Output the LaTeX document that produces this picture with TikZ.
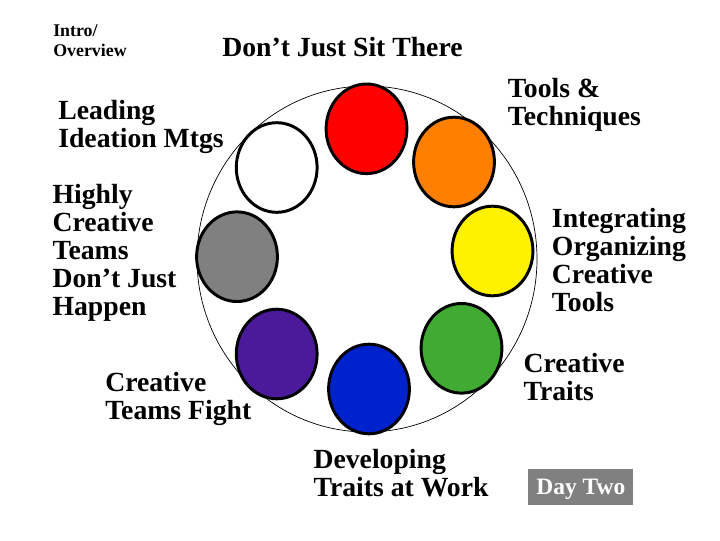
\documentclass[tikz,border=0pt]{standalone}
\usepackage{fontspec}
\setmainfont{Liberation Serif}
\usetikzlibrary{shapes.geometric}
\definecolor{wheelorange}{RGB}{255,128,0}
\definecolor{wheelgreen}{RGB}{64,170,51}
\definecolor{wheelblue}{RGB}{0,34,204}
\definecolor{wheelpurple}{RGB}{74,26,154}
\definecolor{wheelgray}{RGB}{128,128,128}
\tikzset{
  disc/.style={ellipse,draw=black,line width=2.1pt,minimum width=2.02cm,minimum height=2.24cm,inner sep=0pt},
  topic/.style={anchor=base west,align=left,inner sep=0pt,font=\bfseries\fontsize{19.7}{19.9}\selectfont},
}
\begin{document}
\begin{tikzpicture}[x=0.025cm,y=-0.025cm,line cap=round,line join=round]
	\useasboundingbox (0,0) rectangle (720,540);
	\draw[line width=0.5pt] (367,259) ellipse (170 and 173);
	\node[disc,fill=red] (red) at (366.5,128.8) {};
	\node[disc,fill=wheelorange] (orange) at (454,162) {};
	\node[disc,fill=yellow] (yellow) at (492.5,251) {};
	\node[disc,fill=wheelgreen] (green) at (461.5,348.3) {};
	\node[disc,fill=wheelblue] (blue) at (369,389) {};
	\node[disc,fill=wheelpurple] (purple) at (276.7,354) {};
	\node[disc,fill=wheelgray] (gray) at (237,256.7) {};
	\node[disc,fill=white] (white) at (276.7,167.5) {};
	\node[topic,font=\bfseries\fontsize{12.7}{14.2}\selectfont] (intro) at (53,56) {Intro/\\Overview};
	\node[topic] (title) at (222,56) {Don’t Just Sit There};
	\node[topic] (leading) at (58,147.7) {Leading\\Ideation Mtgs};
	\node[topic] (tools) at (507.7,125.7) {Tools \&\\Techniques};
	\node[topic] (integrating) at (551.7,311.3) {Integrating\\Organizing\\Creative\\Tools};
	\node[topic] (highly) at (52.3,315.7) {Highly\\Creative\\Teams\\Don’t Just\\Happen};
	\node[topic] (fight) at (105,419.3) {Creative\\Teams Fight};
	\node[topic] (traits) at (523.3,400.7) {Creative\\Traits};
	\node[topic] (developing) at (313.3,496.7) {Developing\\Traits at Work};
	\node[fill=wheelgray,text=white,minimum width=2.625cm,minimum height=0.9cm,inner sep=0pt,text height=11.05pt,text depth=0pt,font=\bfseries\fontsize{16.7}{18}\selectfont] (daytwo) at (580.8,487) {Day Two};
\end{tikzpicture}
\end{document}
